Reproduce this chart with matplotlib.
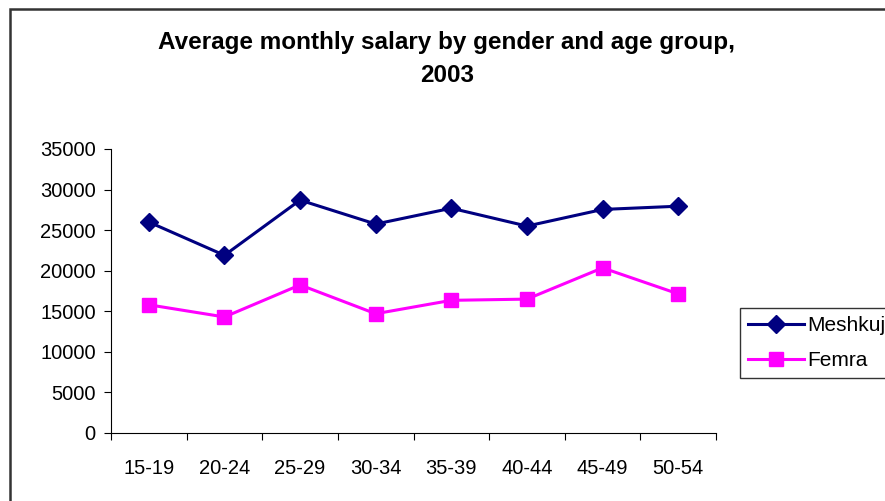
import matplotlib
matplotlib.use("Agg")
import matplotlib.pyplot as plt
from matplotlib.patches import Rectangle

plt.rcParams['font.family'] = ['Liberation Sans', 'DejaVu Sans']

categories = ["15-19", "20-24", "25-29", "30-34", "35-39", "40-44", "45-49", "50-54"]
meshkuj = [26000, 21900, 28700, 25750, 27700, 25500, 27550, 27950]
femra = [15800, 14300, 18250, 14700, 16350, 16500, 20350, 17150]
yticks = [0, 5000, 10000, 15000, 20000, 25000, 30000, 35000]

W, H = 885, 501
fig = plt.figure(figsize=(W / 100, H / 100), dpi=100)
fig.patch.set_facecolor("white")

# chart area border (clipped at right/bottom in reference)
fig.patches.append(Rectangle((9.5 / W, -0.1), 1.2, 1 - 9 / H + 0.1,
                             transform=fig.transFigure, fill=False,
                             edgecolor="#333333", linewidth=1.8))

ax = fig.add_axes([111 / W, (H - 433) / H, (716 - 111) / W, (433 - 149) / H])
x = list(range(len(categories)))
ax.plot(x, meshkuj, color="#000080", linewidth=2.2, marker="D", markersize=9,
        label="Meshkuj", clip_on=False)
ax.plot(x, femra, color="#FF00FF", linewidth=2.2, marker="s", markersize=10,
        label="Femra", clip_on=False)

ax.set_xlim(-0.5, len(categories) - 0.5)
ax.set_ylim(0, 35000)
ax.set_yticks(yticks)
ax.set_yticklabels([str(v) for v in yticks], fontsize=14.5)
ax.set_xticks([i - 0.5 for i in range(len(categories) + 1)], minor=False)
ax.set_xticklabels([""] * (len(categories) + 1))
ax.set_xticks(x, minor=True)
ax.set_xticklabels(categories, minor=True, fontsize=14.5)
ax.tick_params(axis="x", which="minor", length=0, pad=19)
ax.tick_params(axis="x", which="major", direction="out", length=5, color="#000000")
ax.tick_params(axis="y", direction="out", length=5, pad=6)

for s in ["top", "right"]:
    ax.spines[s].set_visible(False)
ax.spines["left"].set_color("#000000")
ax.spines["bottom"].set_color("#000000")

fig.text(447 / W, 1 - 59 / H, "Average monthly salary by gender and age group,\n2003",
         ha="center", va="center", fontsize=17.5, fontweight="bold", linespacing=1.6)

leg = fig.legend(loc="upper left", bbox_to_anchor=(740 / W, 1 - 308 / H),
                 borderaxespad=0, fontsize=15, frameon=True, fancybox=False,
                 edgecolor="#000000", handlelength=2.65, borderpad=0.4,
                 labelspacing=0.75, handletextpad=0.2)
leg.get_frame().set_linewidth(1.0)

fig.savefig("out.png", dpi=100)
